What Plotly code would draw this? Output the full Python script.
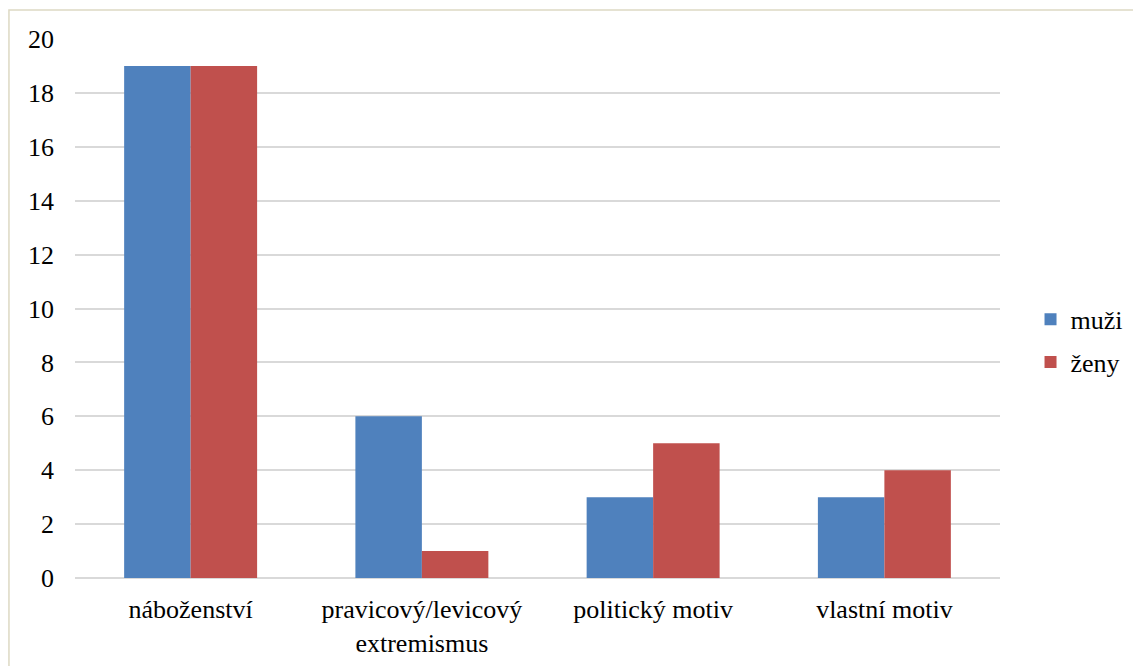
import plotly.graph_objects as go

categories = ["náboženství", "pravicový/levicový<br>extremismus", "politický motiv", "vlastní motiv"]
muzi = [19, 6, 3, 3]
zeny = [19, 1, 5, 4]
y_ticks = [0, 2, 4, 6, 8, 10, 12, 14, 16, 18, 20]

fig = go.Figure()
fig.add_trace(go.Bar(name="muži", x=categories, y=muzi, legendgroup="a",
                     marker=dict(color="#4F81BD", line=dict(width=0))))
fig.add_trace(go.Bar(name="ženy", x=categories, y=zeny, legendgroup="b",
                     marker=dict(color="#C0504D", line=dict(width=0))))

font = "Times New Roman, Liberation Serif, serif"
fs = 26
fig.update_layout(
    width=1133, height=666,
    margin=dict(l=75, r=133, t=39, b=88, autoexpand=False),
    paper_bgcolor="white", plot_bgcolor="white",
    barmode="group", bargap=0.425, bargroupgap=0,
    font=dict(family=font, size=fs, color="black"),
    showlegend=True,
    legend=dict(x=1.033, y=0.44, xanchor="left", yanchor="middle",
                font=dict(family=font, size=fs), tracegroupgap=6,
                itemwidth=30, bgcolor="rgba(0,0,0,0)"),
    xaxis=dict(showgrid=False, showline=False, ticks="", tickfont=dict(family=font, size=fs),
               ticklabelstandoff=13, automargin=False),
    yaxis=dict(range=[0, 20], tickvals=y_ticks, showgrid=True, gridcolor="#D9D9D9",
               gridwidth=1.5, zeroline=True, zerolinecolor="#D9D9D9", zerolinewidth=1.5,
               showline=False, ticks="", ticklabelstandoff=20, tickfont=dict(family=font, size=fs),
               automargin=False),
    shapes=[dict(type="rect", xref="paper", yref="paper",
                 x0=-0.0714, x1=1.3, y0=-0.3, y1=1.0538,
                 line=dict(color="#DDD9C3", width=1.5), fillcolor="rgba(0,0,0,0)", layer="below")],
)
fig.write_html("out.html", config={"displayModeBar": False},
               post_script="document.body.style.margin='0';document.body.style.overflow='hidden';")
